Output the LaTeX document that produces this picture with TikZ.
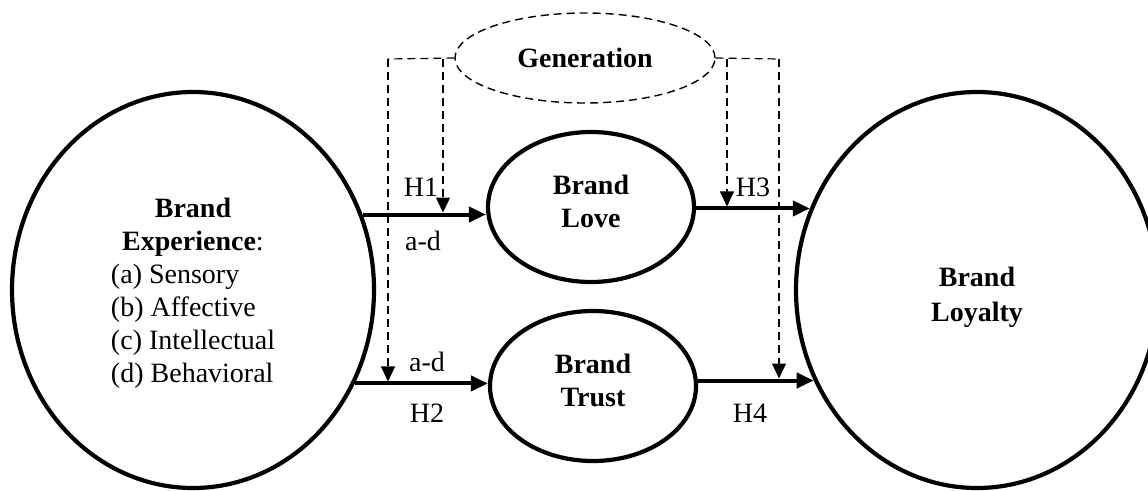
\documentclass[tikz,border=0pt]{standalone}
\usepackage{fontspec}
\setmainfont{Liberation Serif}
\usetikzlibrary{arrows.meta,shapes.geometric,calc}
\begin{document}
\begin{tikzpicture}[x=1pt,y=-1pt,
  bigell/.style={draw,ellipse,line width=4.2pt,inner sep=0pt,minimum width=362pt,minimum height=396pt},
  midell/.style={draw,ellipse,line width=4.2pt,inner sep=0pt,minimum width=206pt,minimum height=150pt},
  genell/.style={draw,ellipse,dash pattern=on 8pt off 5pt,line width=1.4pt,minimum width=260pt,minimum height=90pt,inner sep=0pt,font=\fontsize{28}{33}\selectfont\bfseries},
  txt/.style={font=\fontsize{28}{33}\selectfont,align=center,inner sep=0pt},
  lab/.style={font=\fontsize{28}{33}\selectfont,inner sep=0pt},
  relarr/.style={line width=4pt,-{Triangle[length=17pt,width=15pt]}},
  modline/.style={line width=1.2pt,dash pattern=on 8pt off 5pt},
  modarr/.style={modline,-{Triangle[length=15pt,width=14pt]}},
]
\useasboundingbox (0,0) rectangle (1148,490);

% construct nodes
\node[bigell] (exp) at (193,290) {};
\node[bigell] (loy) at (977,290) {};
\node[midell] (love) at (591,207) {};
\node[midell] (trust) at (593,386) {};
\node[genell] (gen) at (585,58) {Generation};

% texts
\node[txt] (expt) at (193,295) {\textbf{Brand}\\\textbf{Experience}:\\\begin{tabular}[t]{@{}l@{}}(a) Sensory\\(b) Affective\\(c) Intellectual\\(d) Behavioral\end{tabular}};
\node[txt,font=\fontsize{28}{35}\selectfont\bfseries] (loyt) at (977,297) {Brand\\Loyalty};
\node[txt,font=\fontsize{28}{33}\selectfont\bfseries] (lovet) at (591,201) {Brand\\Love};
\node[txt,font=\fontsize{28}{33}\selectfont\bfseries] (trustt) at (593,380) {Brand\\Trust};

% paths
\coordinate (h1s) at (exp.24.8);
\coordinate (h2s) at (exp.-30.2);
\coordinate (h3e) at (loy.154.8);
\coordinate (h4e) at (loy.209.9);
\draw[relarr] (h1s) -- (h1s -| love.west);
\draw[relarr] (h2s) -- (h2s -| trust.west);
\draw[relarr] (love.east |- h3e) -- (h3e);
\draw[relarr] (trust.east |- h4e) -- (h4e);

% moderation
\coordinate (lo) at (388,59);
\coordinate (li) at (443,59);
\coordinate (ri) at (727,59);
\coordinate (ro) at (779,59);
\draw[modline] (gen.west) -- (lo);
\draw[modline] (gen.east) -- (ro);
\draw[modarr] (lo) -- ($(lo |- h2s)+(0,-2)$);
\draw[modarr] (li) -- ($(li |- h1s)+(0,-2)$);
\draw[modarr] (ri) -- ($(ri |- h3e)+(0,-2)$);
\draw[modarr] (ro) -- ($(ro |- h4e)+(0,-2)$);

% labels
\node[lab] (l1) at (421,187) {H1};
\node[lab] (l1b) at (423,241) {a-d};
\node[lab] (l2b) at (427,362) {a-d};
\node[lab] (l2) at (427,413) {H2};
\node[lab] (l3) at (753,187) {H3};
\node[lab] (l4) at (750,413) {H4};
\end{tikzpicture}
\end{document}
